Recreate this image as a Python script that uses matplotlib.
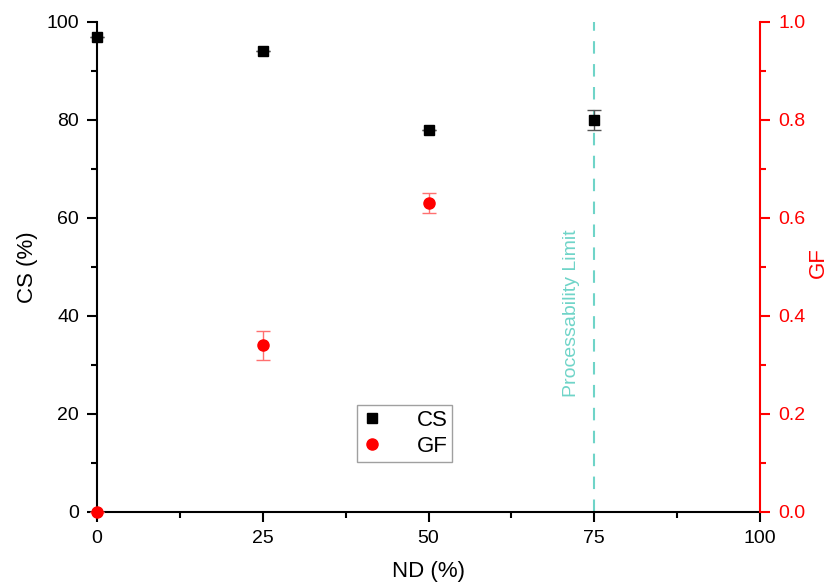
import matplotlib
matplotlib.use("Agg")
import matplotlib.pyplot as plt
from matplotlib.ticker import MultipleLocator

plt.rcParams["font.family"] = ["Liberation Sans", "DejaVu Sans"]

# data
nd = [0, 25, 50, 75]
cs = [97, 94, 78, 80]
cs_err = [0, 0, 0, 2]
nd_gf = [0, 25, 50]
gf = [0.0, 0.34, 0.63]
gf_err = [0.0, 0.03, 0.02]
limit_nd = 75

teal = "#6fd4c8"

fig = plt.figure(figsize=(8.32, 5.86), dpi=100)
ax = fig.add_axes([0.1166, 0.1263, 0.7969, 0.8362])
ax2 = ax.twinx()

h_cs = ax.errorbar(nd, cs, yerr=cs_err, fmt="s", color="black", ms=7,
                   ecolor="#555555", elinewidth=1, capsize=5, clip_on=False,
                   zorder=5, label="CS")
h_gf = ax2.errorbar(nd_gf, gf, yerr=gf_err, fmt="o", color="red", ms=8,
                    ecolor="#ff7070", elinewidth=1, capsize=5, clip_on=False,
                    zorder=5, label="GF")

ax.axvline(limit_nd, color=teal, ls=(0, (6, 5)), lw=1.5, zorder=1)
ax.text(limit_nd - 3.4, 40.6, "Processability Limit", rotation=90, color=teal,
        fontsize=14, ha="center", va="center")

ax.set_xlim(0, 100)
ax.set_ylim(0, 100)
ax2.set_ylim(0, 1.0)

ax.set_xticks([0, 25, 50, 75, 100])
ax.xaxis.set_minor_locator(MultipleLocator(12.5))
ax.set_yticks([0, 20, 40, 60, 80, 100])
ax.yaxis.set_minor_locator(MultipleLocator(10))
ax2.set_yticks([0, 0.2, 0.4, 0.6, 0.8, 1.0])
ax2.set_yticklabels(["0.0", "0.2", "0.4", "0.6", "0.8", "1.0"])
ax2.yaxis.set_minor_locator(MultipleLocator(0.1))

for a in (ax, ax2):
    a.spines["top"].set_visible(False)
ax.spines["right"].set_visible(False)
ax2.spines["left"].set_visible(False)
ax2.spines["bottom"].set_visible(False)
ax2.spines["right"].set_color("red")
for s in ("left", "bottom"):
    ax.spines[s].set_linewidth(1.5)
ax2.spines["right"].set_linewidth(1.5)

ax.tick_params(axis="both", which="major", direction="out", length=7, width=1.5,
               labelsize=14, pad=6)
ax.tick_params(axis="both", which="minor", direction="out", length=4, width=1.5)
ax2.tick_params(axis="y", which="major", direction="out", length=7, width=1.5,
                labelsize=14, colors="red", pad=6)
ax2.tick_params(axis="y", which="minor", direction="out", length=4, width=1.5,
                colors="red")

ax.set_xlabel("ND (%)", fontsize=16, labelpad=10)
ax.set_ylabel("CS (%)", fontsize=16, labelpad=6)
ax2.set_ylabel("GF", fontsize=16, color="red", rotation=90,
               ha="center", va="center")
ax2.yaxis.set_label_coords(1.0875, 0.51)

leg = ax.legend([h_cs[0], h_gf[0]], ["CS", "GF"], loc="upper left",
                bbox_to_anchor=(0.392, 0.218), fontsize=16, frameon=True,
                fancybox=False, edgecolor="#888888", handlelength=1.0,
                handletextpad=1.5, borderpad=0.2, labelspacing=0.25,
                borderaxespad=0)
leg.get_frame().set_linewidth(1.0)
leg.set_zorder(10)

fig.savefig("out.png", dpi=100)
